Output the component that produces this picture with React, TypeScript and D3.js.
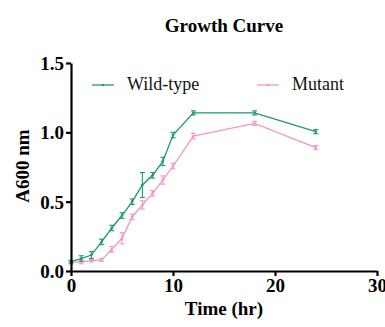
import { useEffect, useRef } from "react";
import * as d3 from "d3";

const times = [0, 1, 2, 3, 4, 5, 6, 7, 8, 9, 10, 12, 18, 24];
const wildType = [0.067, 0.09, 0.115, 0.21, 0.31, 0.4, 0.5, 0.62, 0.69, 0.79, 0.98, 1.14, 1.14, 1.005];
const wildTypeErr = [0.01, 0.02, 0.025, 0.02, 0.02, 0.02, 0.02, 0.09, 0.02, 0.03, 0.02, 0.015, 0.015, 0.015];
const mutant = [0.06, 0.067, 0.075, 0.08, 0.156, 0.236, 0.39, 0.476, 0.56, 0.656, 0.757, 0.973, 1.065, 0.89];
const mutantErr = [0.01, 0.015, 0.01, 0.01, 0.02, 0.04, 0.02, 0.03, 0.02, 0.03, 0.02, 0.02, 0.015, 0.015];
const xTicks = [0, 10, 20, 30];
const yTicks = [0, 0.5, 1.0, 1.5];

const GREEN = "#1f9870";
const PINK = "#f397c0";
const FONT = "\"Liberation Serif\", \"Times New Roman\", serif";

export default function App ()
{
    const svgRef = useRef<SVGSVGElement>( null );

    useEffect( () =>
    {
        if ( !svgRef.current ) return;
        const svg = d3.select( svgRef.current );
        svg.selectAll( "*" ).remove();

        const x = d3.scaleLinear().domain( [ 0, 30 ] ).range( [ 71, 377 ] );
        const y = d3.scaleLinear().domain( [ 0, 1.5 ] ).range( [ 271, 63 ] );

        // Title
        svg.append( "text" ).attr( "x", 224 ).attr( "y", 32 ).attr( "text-anchor", "middle" )
            .attr( "font-family", FONT ).attr( "font-weight", "bold" ).attr( "font-size", 19 )
            .text( "Growth Curve" );

        // Series
        const series = [
            { vals: wildType, err: wildTypeErr, color: GREEN },
            { vals: mutant, err: mutantErr, color: PINK },
        ];
        series.slice().reverse().forEach( ( s ) =>
        {
            const line = d3.line<number>().x( ( _, i ) => x( times[ i ] ) ).y( ( d ) => y( d ) );
            svg.append( "path" ).attr( "d", line( s.vals ) ).attr( "fill", "none" )
                .attr( "stroke", s.color ).attr( "stroke-width", 1.3 );
            const eb = svg.append( "g" ).attr( "stroke", s.color ).attr( "stroke-width", 1.1 );
            s.vals.forEach( ( v, i ) =>
            {
                const cx = x( times[ i ] );
                const y1 = y( v + s.err[ i ] ), y2 = y( v - s.err[ i ] );
                eb.append( "line" ).attr( "x1", cx ).attr( "x2", cx ).attr( "y1", y1 ).attr( "y2", y2 );
                eb.append( "line" ).attr( "x1", cx - 2.5 ).attr( "x2", cx + 2.5 ).attr( "y1", y1 ).attr( "y2", y1 );
                eb.append( "line" ).attr( "x1", cx - 2.5 ).attr( "x2", cx + 2.5 ).attr( "y1", y2 ).attr( "y2", y2 );
                svg.append( "circle" ).attr( "cx", cx ).attr( "cy", y( v ) ).attr( "r", 1.3 ).attr( "fill", s.color );
            } );
        } );

        // Axes
        const xAxis = svg.append( "g" ).attr( "transform", `translate(0,${ y( 0 ) })` )
            .call( d3.axisBottom( x ).tickValues( xTicks ).tickSize( 5 ).tickPadding( 3 ).tickSizeOuter( 0 ).tickFormat( d3.format( "d" ) ) );
        const yAxis = svg.append( "g" ).attr( "transform", `translate(${ x( 0 ) },0)` )
            .call( d3.axisLeft( y ).tickValues( yTicks ).tickSize( 5 ).tickPadding( 2 ).tickSizeOuter( 0 ).tickFormat( d3.format( ".1f" ) ) );
        [ xAxis, yAxis ].forEach( ( a ) =>
        {
            a.attr( "font-family", FONT );
            a.selectAll( "path, line" ).attr( "stroke", "#000" ).attr( "stroke-width", 2.2 );
            a.selectAll( "text" ).attr( "fill", "#000" ).attr( "font-family", FONT )
                .attr( "font-weight", "bold" ).attr( "font-size", 19 );
        } );
        yAxis.selectAll( "text" ).attr( "dy", "0.34em" );

        // Axis labels
        svg.append( "text" ).attr( "x", 224 ).attr( "y", 315 ).attr( "text-anchor", "middle" )
            .attr( "font-family", FONT ).attr( "font-weight", "bold" ).attr( "font-size", 19 )
            .text( "Time (hr)" );
        svg.append( "text" ).attr( "transform", `translate(29,166) rotate(-90)` ).attr( "text-anchor", "middle" )
            .attr( "font-family", FONT ).attr( "font-weight", "bold" ).attr( "font-size", 19 )
            .text( "A600 nm" );

        // Legend
        const legend = [
            { label: "Wild-type", color: GREEN, x0: 92 },
            { label: "Mutant", color: PINK, x0: 257 },
        ];
        legend.forEach( ( l ) =>
        {
            svg.append( "line" ).attr( "x1", l.x0 ).attr( "x2", l.x0 + 22 ).attr( "y1", 85 ).attr( "y2", 85 )
                .attr( "stroke", l.color ).attr( "stroke-width", 1.3 );
            svg.append( "circle" ).attr( "cx", l.x0 + 11 ).attr( "cy", 85 ).attr( "r", 1.2 ).attr( "fill", l.color );
            svg.append( "text" ).attr( "x", l.x0 + 35 ).attr( "y", 90 )
                .attr( "font-family", FONT ).attr( "font-size", 18 ).attr( "fill", "#111" )
                .text( l.label );
        } );
    }, [] );

    return (
        <svg ref={ svgRef } width={ 385 } height={ 327 }
            style={ { position: "absolute", left: 0, top: 0, background: "#fff" } } />
    );
}
